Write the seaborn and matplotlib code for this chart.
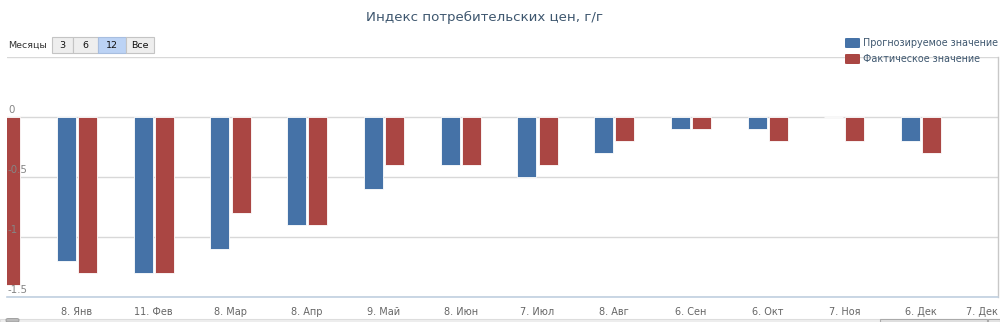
import numpy as np
import pandas as pd
import seaborn as sns
import matplotlib.pyplot as plt
import matplotlib.transforms as mtransforms
from matplotlib.patches import Rectangle, FancyBboxPatch

# ---- data -------------------------------------------------------------
periods = ["9. Дек", "8. Янв", "11. Фев", "8. Мар", "8. Апр", "9. Май", "8. Июн",
           "7. Июл", "8. Авг", "6. Сен", "6. Окт", "7. Ноя", "6. Дек", "7. Дек"]
forecast = [np.nan, -1.2, -1.3, -1.1, -0.9, -0.6, -0.4, -0.5, -0.3, -0.1, -0.1, 0.0, -0.2, np.nan]
actual = [-1.4, -1.3, -1.3, -0.8, -0.9, -0.4, -0.4, -0.4, -0.2, -0.1, -0.2, -0.2, -0.3, np.nan]

series_names = ["Прогнозируемое значение", "Фактическое значение"]
series_colors = ["#4572A7", "#AA4643"]
y_grid = [0.5, 0, -0.5, -1, -1.5]
y_labels = [0, -0.5, -1, -1.5]
range_buttons = ["3", "6", "12", "Все"]
title = "Индекс потребительских цен, г/г"

df = pd.DataFrame({
    "Период": periods * 2,
    "Значение": forecast + actual,
    "Серия": [series_names[0]] * len(periods) + [series_names[1]] * len(periods),
})

# ---- figure -----------------------------------------------------------
sns.set_style("white")
plt.rcParams["font.family"] = ["DejaVu Sans"]

W, H = 1000, 322
fig = plt.figure(figsize=(W / 100, H / 100), dpi=100, facecolor="white")


def fx(px):
    return px / W


def fy(py):
    return 1 - py / H


ax = fig.add_axes([fx(7), fy(297), fx(998) - fx(7), fy(57) - fy(297)])

sns.barplot(data=df, x="Период", y="Значение", hue="Серия",
            order=periods, hue_order=series_names, palette=series_colors,
            saturation=1, width=0.55, gap=0.1, errorbar=None,
            edgecolor="white", linewidth=0.6, legend=False, ax=ax, zorder=2)

ax.set_xlim((7 - 0.25) / 76.75, 13.001)
ax.set_ylim(-1.5, 0.5)
ax.set_xlabel("")
ax.set_ylabel("")

# grid and axes styling
ax.set_yticks(y_grid)
ax.set_yticklabels([])
ax.tick_params(axis="y", length=0)
ax.yaxis.grid(True, color="#D8D8D8", linewidth=1, zorder=0)
ax.xaxis.grid(False)
ax.set_axisbelow(True)
for side in ("left", "top"):
    ax.spines[side].set_visible(False)
ax.spines["right"].set_color("#C8C8C8")
ax.spines["right"].set_linewidth(1)
ax.spines["bottom"].set_color("#C0D0E0")
ax.spines["bottom"].set_linewidth(1.2)

ax.tick_params(axis="x", length=5, width=1, color="#C0D0E0",
               labelsize=7, labelcolor="#666666", pad=2)
xt = ax.get_xticklabels()
xt[-1].set_horizontalalignment("right")

# y labels sit just above their grid lines, inside the plot, over the bars
ytrans = mtransforms.blended_transform_factory(fig.transFigure, ax.transData)
ytrans = mtransforms.offset_copy(ytrans, fig=fig, x=0, y=2, units="dots")
for v in y_labels:
    ax.text(fx(8), v, f"{v:g}", transform=ytrans, ha="left", va="bottom",
            fontsize=7.4, color="#858585", zorder=5)

# title
fig.text(fx(485), fy(17), title, ha="center", va="center",
         fontsize=9.6, color="#3E576F")

# range selector
fig.text(fx(8), fy(45), "Месяцы", ha="left", va="center", fontsize=6.8, color="#333333")
btn_edges = [52, 73, 98, 126, 154]
for i, lab in enumerate(range_buttons):
    x0, x1 = btn_edges[i], btn_edges[i + 1]
    selected = lab == "12"
    fig.patches.append(Rectangle((fx(x0), fy(52.5)), fx(x1 - x0), fy(37.5) - fy(52.5),
                                 transform=fig.transFigure,
                                 facecolor="#BCD3F5" if selected else "#EEEEEE",
                                 edgecolor="#A8BEDF" if selected else "#C4C4C4",
                                 linewidth=0.8))
    fig.text(fx((x0 + x1) / 2), fy(45), lab, ha="center", va="center",
             fontsize=6.8, color="#111111")

# legend
for i, (name, col) in enumerate(zip(series_names, series_colors)):
    yc = 43 + 16 * i
    fig.patches.append(FancyBboxPatch((fx(845), fy(yc + 5)), fx(15), fy(yc - 5) - fy(yc + 5),
                                      boxstyle="round,pad=0,rounding_size=0.002",
                                      transform=fig.transFigure,
                                      facecolor=col, edgecolor="none"))
    fig.text(fx(863), fy(yc), name, ha="left", va="center",
             fontsize=6.9, color="#3E576F")

# navigator scrollbar strip at the bottom
fig.patches.append(Rectangle((0, fy(322)), 1, fy(318.5) - fy(322),
                             transform=fig.transFigure, facecolor="#EEEEEE",
                             edgecolor="#DDDDDD", linewidth=0.8))
fig.patches.append(Rectangle((fx(880), fy(322)), fx(107), fy(318.5) - fy(322),
                             transform=fig.transFigure, facecolor="#E2E2E2",
                             edgecolor="#AAAAAA", linewidth=0.8))
fig.patches.append(Rectangle((fx(988), fy(322)), fx(12), fy(318.5) - fy(322),
                             transform=fig.transFigure, facecolor="#E6E6E6",
                             edgecolor="#AAAAAA", linewidth=0.8))
fig.patches.append(FancyBboxPatch((fx(6), fy(322)), fx(13), fy(318.5) - fy(322),
                                  boxstyle="round,pad=0,rounding_size=0.003",
                                  transform=fig.transFigure, facecolor="#BBBBBB",
                                  edgecolor="#999999", linewidth=0.6))

fig.savefig("out.png", dpi=100, facecolor="white")
